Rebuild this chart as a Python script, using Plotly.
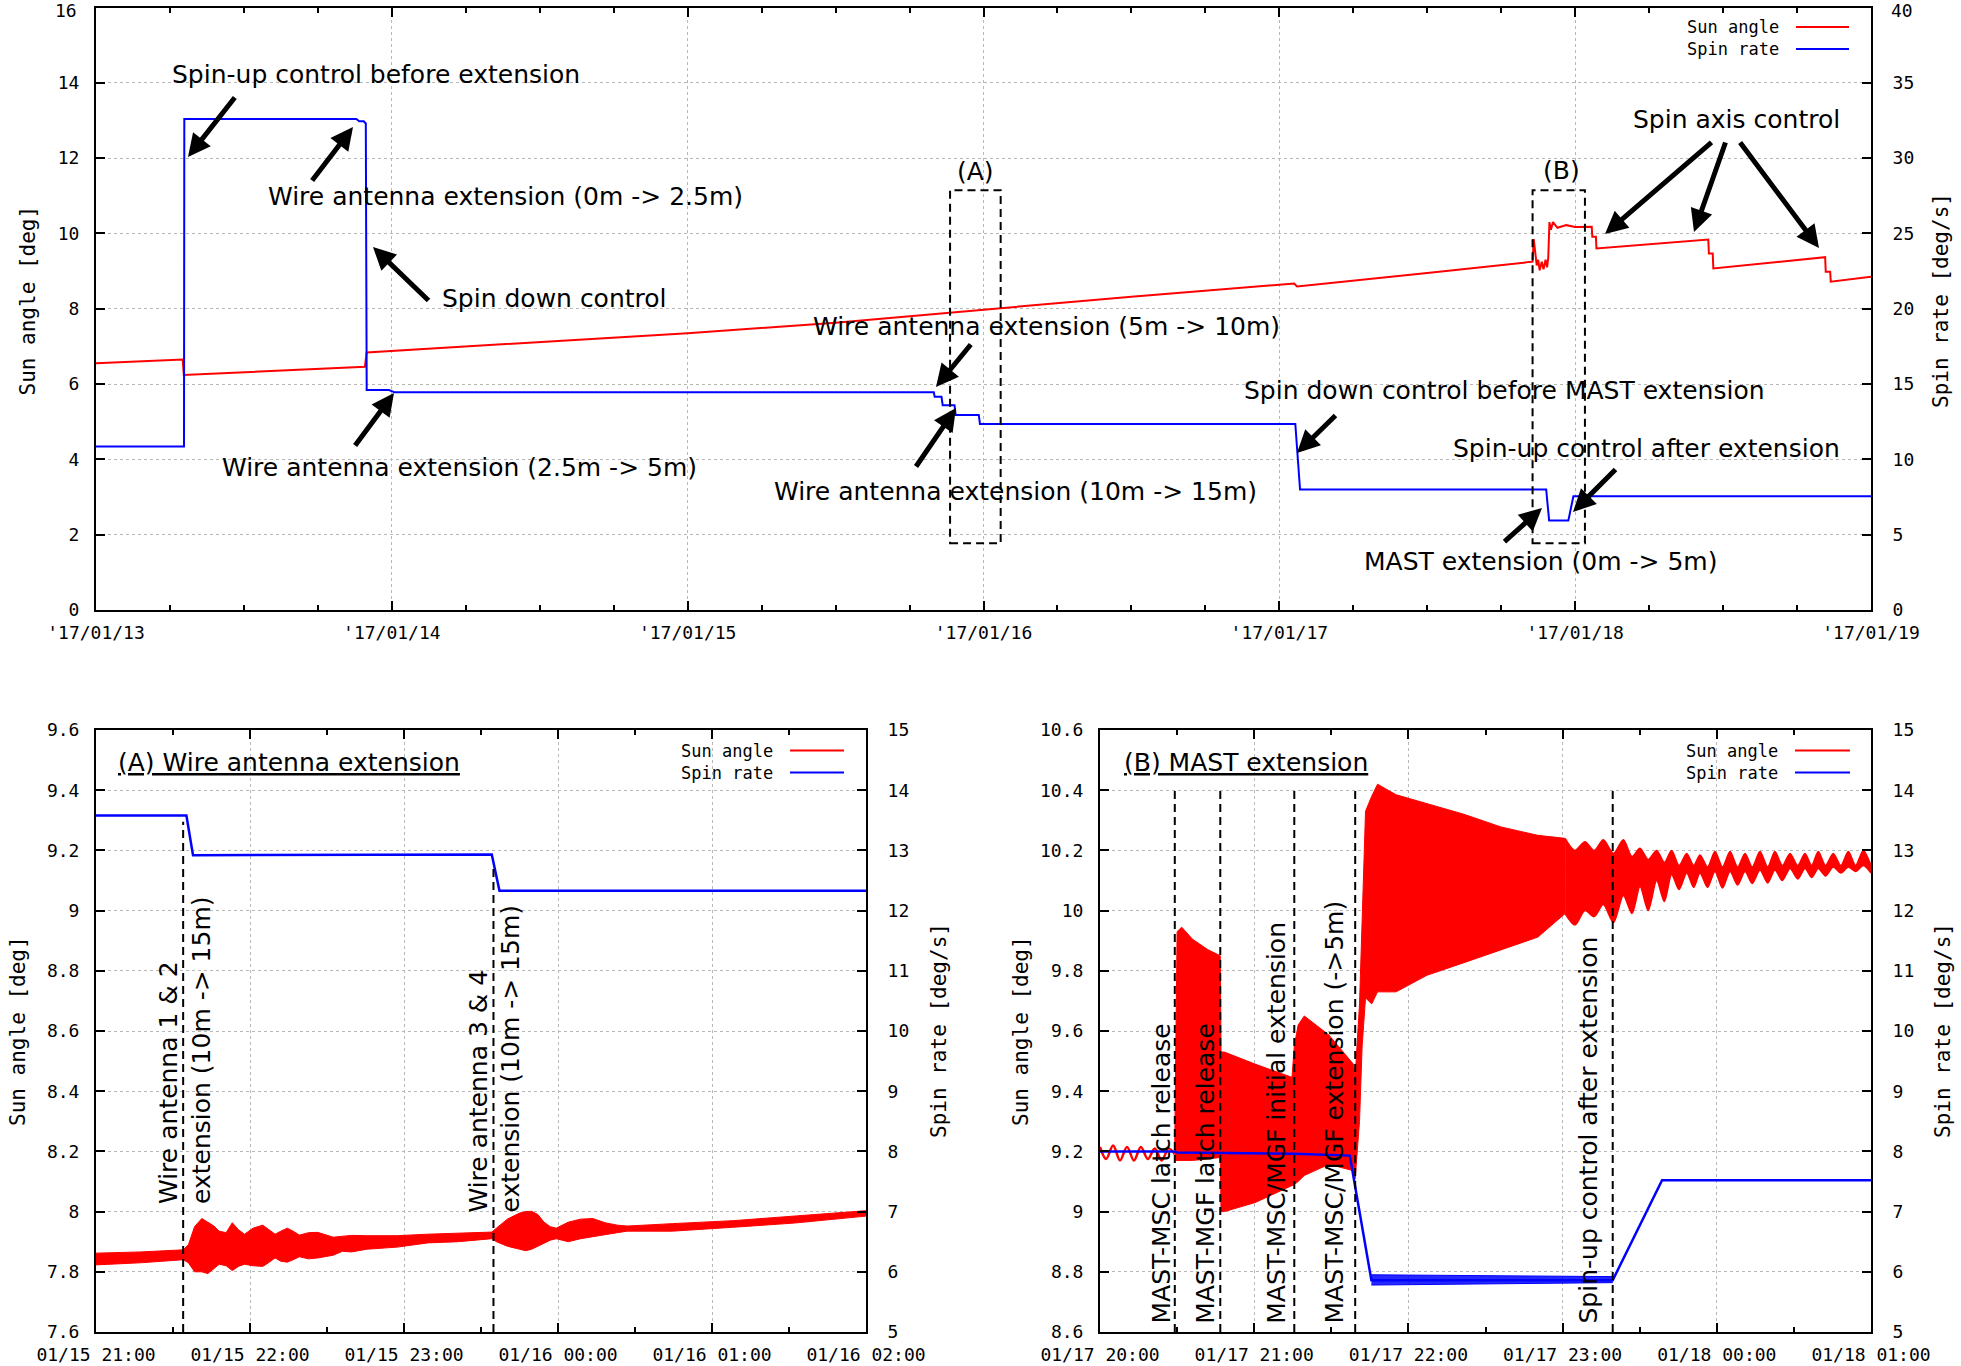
import plotly.graph_objects as go

W, H = 1961, 1366
RED = "rgb(255,0,0)"
BLUE = "rgb(0,0,255)"
GRID = "#b8b8b8"
MONO = "DejaVu Sans Mono, Liberation Mono, monospace"
SANS = "DejaVu Sans, Verdana, sans-serif"

# ---------------- data: overview (days since '17/01/13 00:00) ----------------
top_sun_days = [0.0, 0.293, 0.297, 0.6, 0.909, 0.915, 1.0, 1.5, 2.0, 2.5, 3.0, 3.5,
                4.05, 4.06, 4.5, 4.856, 4.86, 4.864, 4.87, 4.875, 4.88, 4.887, 4.893,
                4.9, 4.905, 4.909, 4.913, 4.918, 4.925, 4.94, 4.97, 5.0, 5.056, 5.058,
                5.07, 5.072, 5.45, 5.452, 5.465, 5.467, 5.845, 5.847, 5.862, 5.864, 6.0]
top_sun_deg = [6.55, 6.65, 6.24, 6.35, 6.46, 6.84, 6.88, 7.1, 7.35, 7.63, 7.98, 8.32,
               8.67, 8.59, 8.95, 9.25, 9.85, 9.5, 9.15, 9.3, 9.02, 9.25, 9.05,
               9.3, 9.1, 9.35, 10.3, 10.1, 10.3, 10.15, 10.22, 10.17, 10.18, 9.91,
               9.91, 9.6, 9.84, 9.47, 9.47, 9.07, 9.37, 8.98, 8.98, 8.72, 8.85]
top_spin_days = [0, 0.2975, 0.2985, 0.88, 0.89, 0.905, 0.912, 0.915, 0.99, 1.01,
                 2.832, 2.835, 2.858, 2.862, 2.902, 2.906, 2.984, 2.988,
                 4.054, 4.07, 4.902, 4.912, 4.977, 4.994, 6.0]
top_spin_dps = [10.85, 10.85, 32.6, 32.6, 32.45, 32.45, 32.3, 14.6, 14.6, 14.45,
                14.45, 14.15, 14.15, 13.6, 13.6, 12.95, 12.95, 12.35,
                12.35, 8.0, 8.0, 5.95, 5.95, 7.55, 7.55]
top_day_ticks = [0, 1, 2, 3, 4, 5, 6]
top_day_labels = ["'17/01/13", "'17/01/14", "'17/01/15", "'17/01/16",
                  "'17/01/17", "'17/01/18", "'17/01/19"]
top_sun_ticks = [0, 2, 4, 6, 8, 10, 12, 14, 16]
top_sun_labels = ["0", "2", "4", "6", "8", "10", "12", "14", "16"]
top_spin_ticks = [0, 5, 10, 15, 20, 25, 30, 35, 40]
top_spin_labels = ["0", "5", "10", "15", "20", "25", "30", "35", "40"]
box_a_days = [2.887, 3.058]
box_b_days = [4.856, 5.033]
box_sun = [1.77, 11.15]

# ---------------- data: (A) wire antenna extension (hours since 01/15 21:00) ----------------
a_spin_hours = [0, 0.587, 0.63, 2.57, 2.62, 5.0]
a_spin_dps = [13.58, 13.58, 12.92, 12.93, 12.33, 12.33]
a_sun_hours = [0, 0.29, 0.567, 0.6, 0.64, 0.687, 0.726, 0.766, 0.80, 0.845, 0.885, 0.925,
               0.964, 1.02, 1.083, 1.12, 1.163, 1.2, 1.242, 1.28, 1.321, 1.38, 1.44, 1.54,
               1.6, 1.659, 1.758, 1.956, 2.155, 2.353, 2.571, 2.6, 2.671, 2.75, 2.79, 2.829,
               2.87, 2.909, 2.95, 2.988, 3.03, 3.067, 3.147, 3.226, 3.306, 3.385, 3.45,
               3.544, 3.742, 4.139, 4.536, 5.0]
a_sun_upper = [7.862, 7.866, 7.873, 7.89, 7.95, 7.977, 7.965, 7.952, 7.935, 7.93, 7.963, 7.94,
               7.925, 7.945, 7.955, 7.94, 7.925, 7.935, 7.945, 7.935, 7.922, 7.93, 7.931, 7.915,
               7.918, 7.921, 7.92, 7.92, 7.925, 7.928, 7.932, 7.945, 7.975, 7.995, 8.0, 8.001,
               7.99, 7.965, 7.95, 7.945, 7.955, 7.965, 7.975, 7.977, 7.963, 7.955, 7.952,
               7.955, 7.96, 7.97, 7.985, 8.003]
a_sun_lower = [7.823, 7.83, 7.84, 7.83, 7.80, 7.80, 7.794, 7.81, 7.825, 7.82, 7.804, 7.818,
               7.825, 7.82, 7.818, 7.83, 7.846, 7.835, 7.832, 7.84, 7.85, 7.843, 7.846, 7.855,
               7.868, 7.866, 7.875, 7.882, 7.896, 7.9, 7.91, 7.9, 7.885, 7.875, 7.87, 7.875,
               7.885, 7.895, 7.905, 7.91, 7.905, 7.9, 7.91, 7.917, 7.925, 7.93, 7.935,
               7.935, 7.935, 7.948, 7.962, 7.985]
a_event_hours = [0.566, 2.581]
a_event_tops = [9.295, 9.146]
a_hour_ticks = [0, 1, 2, 3, 4, 5]
a_hour_labels = ["01/15 21:00", "01/15 22:00", "01/15 23:00", "01/16 00:00",
                 "01/16 01:00", "01/16 02:00"]
a_sun_ticks = [7.6, 7.8, 8.0, 8.2, 8.4, 8.6, 8.8, 9.0, 9.2, 9.4, 9.6]
a_sun_labels = ["7.6", "7.8", "8", "8.2", "8.4", "8.6", "8.8", "9", "9.2", "9.4", "9.6"]

# ---------------- data: (B) MAST extension (hours since 01/17 20:00) ----------------
b_sun_hours1 = [0, 0.04, 0.085, 0.13, 0.175, 0.22, 0.265, 0.31, 0.355, 0.40, 0.445, 0.485]
b_sun_deg1 = [9.215, 9.175, 9.22, 9.17, 9.215, 9.17, 9.215, 9.175, 9.21, 9.17, 9.21, 9.19]
b_sun_hours2 = [0.485, 0.50, 0.53, 0.6, 0.7, 0.78, 0.785, 0.807, 1.006, 1.245, 1.26, 1.285,
                1.325, 1.484, 1.643, 1.655, 1.683, 1.70, 1.722, 1.762, 1.80, 1.92, 2.12,
                2.36, 2.60, 2.84, 3.016]
b_sun_upper2 = [9.23, 9.93, 9.945, 9.905, 9.87, 9.85, 9.53, 9.53, 9.49, 9.446, 9.55, 9.62,
                9.65, 9.587, 9.49, 9.45, 9.69, 9.95, 10.33, 10.38, 10.42, 10.385, 10.356,
                10.32, 10.278, 10.25, 10.24]
b_sun_lower2 = [9.17, 9.17, 9.17, 9.17, 9.175, 9.18, 9.0, 9.0, 9.03, 9.087, 9.09, 9.1,
                9.12, 9.157, 9.136, 9.11, 9.30, 9.55, 9.71, 9.69, 9.73, 9.73, 9.785,
                9.827, 9.869, 9.912, 9.99]
b_sun_hours3 = [3.016, 3.08, 3.145, 3.205, 3.264, 3.33, 3.394, 3.45, 3.502, 3.555,
                3.610, 3.66, 3.707, 3.755, 3.805, 3.85, 3.891, 3.94, 3.988, 4.037,
                4.086, 4.135, 4.183, 4.23, 4.280, 4.33, 4.377, 4.425, 4.475, 4.525,
                4.572, 4.615, 4.658, 4.705, 4.755, 4.805, 4.853, 4.9, 4.950, 5.0]
b_sun_upper3 = [10.24, 10.2, 10.229, 10.2, 10.235, 10.19, 10.235, 10.18, 10.207, 10.17,
                10.2, 10.16, 10.2, 10.15, 10.19, 10.15, 10.185, 10.145, 10.196, 10.145,
                10.196, 10.145, 10.19, 10.145, 10.196, 10.145, 10.196, 10.15, 10.19, 10.15,
                10.19, 10.15, 10.196, 10.15, 10.19, 10.15, 10.196, 10.15, 10.2, 10.15]
b_sun_lower3 = [9.99, 9.952, 10.0, 9.98, 10.02, 9.96, 10.05, 9.99, 10.08, 10.0,
                10.1, 10.03, 10.12, 10.07, 10.125, 10.077, 10.125, 10.077, 10.13, 10.075,
                10.13, 10.085, 10.13, 10.09, 10.135, 10.092, 10.135, 10.1, 10.14, 10.105,
                10.14, 10.11, 10.14, 10.115, 10.145, 10.125, 10.145, 10.13, 10.15, 10.125]
b_spin_hours = [0, 0.485, 0.5, 1.26, 1.62, 1.76, 3.325, 3.645, 5.0]
b_spin_dps = [8.0, 8.0, 7.98, 7.96, 7.93, 5.86, 5.86, 7.52, 7.52]
b_spin_band_hours = [1.76, 2.5, 3.325]
b_spin_band_upper = [5.95, 5.93, 5.92]
b_spin_band_lower = [5.78, 5.80, 5.82]
b_event_hours = [0.485, 0.78, 1.26, 1.655, 3.325]
b_event_top = 10.40
b_hour_labels = ["01/17 20:00", "01/17 21:00", "01/17 22:00", "01/17 23:00",
                 "01/18 00:00", "01/18 01:00"]
b_sun_ticks = [8.6, 8.8, 9.0, 9.2, 9.4, 9.6, 9.8, 10.0, 10.2, 10.4, 10.6]
b_sun_labels = ["8.6", "8.8", "9", "9.2", "9.4", "9.6", "9.8", "10", "10.2", "10.4", "10.6"]
spin_ticks_small = [5, 6, 7, 8, 9, 10, 11, 12, 13, 14, 15]


def px(X):
    return X / W


def py(Y):
    return 1 - Y / H


fig = go.Figure()

# top panel
fig.add_trace(go.Scatter(x=top_sun_days, y=top_sun_deg, xaxis="x", yaxis="y", mode="lines",
                         line=dict(color=RED, width=2), name="Sun angle"))
fig.add_trace(go.Scatter(x=top_spin_days, y=top_spin_dps, xaxis="x", yaxis="y2", mode="lines",
                         line=dict(color=BLUE, width=2), name="Spin rate"))

# (A)
fig.add_trace(go.Scatter(x=a_sun_hours, y=a_sun_lower, xaxis="x2", yaxis="y3", mode="lines",
                         line=dict(color=RED, width=1)))
fig.add_trace(go.Scatter(x=a_sun_hours, y=a_sun_upper, xaxis="x2", yaxis="y3", mode="lines",
                         line=dict(color=RED, width=1), fill="tonexty", fillcolor=RED))
fig.add_trace(go.Scatter(x=a_spin_hours, y=a_spin_dps, xaxis="x2", yaxis="y4", mode="lines",
                         line=dict(color=BLUE, width=2.5)))

# (B)
fig.add_trace(go.Scatter(x=b_sun_hours1, y=b_sun_deg1, xaxis="x3", yaxis="y5", mode="lines",
                         line=dict(color=RED, width=2.5, shape="spline")))
fig.add_trace(go.Scatter(x=b_sun_hours2, y=b_sun_lower2, xaxis="x3", yaxis="y5", mode="lines",
                         line=dict(color=RED, width=1)))
fig.add_trace(go.Scatter(x=b_sun_hours2, y=b_sun_upper2, xaxis="x3", yaxis="y5", mode="lines",
                         line=dict(color=RED, width=1), fill="tonexty", fillcolor=RED))
fig.add_trace(go.Scatter(x=b_sun_hours3, y=b_sun_lower3, xaxis="x3", yaxis="y5", mode="lines",
                         line=dict(color=RED, width=1.5, shape="spline", smoothing=0.8)))
fig.add_trace(go.Scatter(x=b_sun_hours3, y=b_sun_upper3, xaxis="x3", yaxis="y5", mode="lines",
                         line=dict(color=RED, width=1.5, shape="spline", smoothing=0.8),
                         fill="tonexty", fillcolor=RED))
fig.add_trace(go.Scatter(x=b_spin_band_hours, y=b_spin_band_lower, xaxis="x3", yaxis="y6",
                         mode="lines", line=dict(color=BLUE, width=1)))
fig.add_trace(go.Scatter(x=b_spin_band_hours, y=b_spin_band_upper, xaxis="x3", yaxis="y6",
                         mode="lines", line=dict(color=BLUE, width=1), fill="tonexty",
                         fillcolor="rgba(0,0,255,0.85)"))
fig.add_trace(go.Scatter(x=b_spin_hours, y=b_spin_dps, xaxis="x3", yaxis="y6", mode="lines",
                         line=dict(color=BLUE, width=2.5)))

tickfont = dict(family=MONO, size=18, color="black")


def xax(domain, anchor, rng, vals, texts, minor_dtick):
    return dict(domain=domain, anchor=anchor, range=rng, tickmode="array", tickvals=vals,
                ticktext=texts, ticks="inside", ticklen=9, tickwidth=1.5, tickcolor="black",
                showline=True, linecolor="black", linewidth=2, mirror="ticks",
                showgrid=True, gridcolor=GRID, griddash="dot", gridwidth=1.2,
                minor=dict(ticks="inside", ticklen=5, tickwidth=1.5, tickcolor="black",
                           dtick=minor_dtick, tick0=0, showgrid=False),
                tickfont=tickfont, zeroline=False, ticklabelstandoff=5, fixedrange=True,
                automargin=False, ticklabeloverflow="allow")


def yleft(domain, anchor, rng, vals, texts):
    return dict(domain=domain, anchor=anchor, range=rng, tickmode="array", tickvals=vals,
                ticktext=texts, ticks="inside", ticklen=9, tickwidth=1.5, tickcolor="black",
                showline=True, linecolor="black", linewidth=2, mirror=True,
                showgrid=True, gridcolor=GRID, griddash="dot", gridwidth=1.2,
                tickfont=tickfont, zeroline=False, ticklabelstandoff=11, fixedrange=True,
                automargin=False, ticklabeloverflow="allow")


def yright(overlay, anchor, rng, vals, texts):
    return dict(overlaying=overlay, anchor=anchor, side="right", range=rng, tickmode="array",
                tickvals=vals, ticktext=texts, ticks="inside", ticklen=9,
                tickwidth=1.5, tickcolor="black", showline=True, linecolor="black",
                linewidth=2, showgrid=False, tickfont=tickfont, zeroline=False,
                ticklabelstandoff=16, fixedrange=True, automargin=False,
                ticklabeloverflow="allow")


top_xd = [px(96), px(1871)]
top_yd = [py(610), py(7.5)]
bl_xd = [px(96), px(866)]
br_xd = [px(1100), px(1871)]
bot_yd = [py(1332), py(730)]

# the topmost labels of the overview panel sit at the page edge: they are drawn as
# annotations nudged a few pixels down so that they stay fully visible
top_sun_axis_text = top_sun_labels[:-1] + [""]
top_spin_axis_text = top_spin_labels[:-1] + [""]

small_spin_labels = [str(v) for v in spin_ticks_small]

layout = dict(
    width=W, height=H, autosize=False,
    margin=dict(l=0, r=0, t=0, b=0, pad=0, autoexpand=False),
    paper_bgcolor="white", plot_bgcolor="white", showlegend=False,
    xaxis=xax(top_xd, "y", [0, 6], top_day_ticks, top_day_labels, 0.25),
    yaxis=yleft(top_yd, "x", [0, 16], top_sun_ticks, top_sun_axis_text),
    yaxis2=yright("y", "x", [0, 40], top_spin_ticks, top_spin_axis_text),
    xaxis2=xax(bl_xd, "y3", [0, 5], a_hour_ticks, a_hour_labels, 0.5),
    yaxis3=yleft(bot_yd, "x2", [7.6, 9.6], a_sun_ticks, a_sun_labels),
    yaxis4=yright("y3", "x2", [5, 15], spin_ticks_small, small_spin_labels),
    xaxis3=xax(br_xd, "y5", [0, 5], a_hour_ticks, b_hour_labels, 0.5),
    yaxis5=yleft(bot_yd, "x3", [8.6, 10.6], b_sun_ticks, b_sun_labels),
    yaxis6=yright("y5", "x3", [5, 15], spin_ticks_small, small_spin_labels),
)
fig.update_layout(**layout)

shapes = []
dash = "8px,5px"
for bx in (box_a_days, box_b_days):
    shapes.append(dict(type="rect", xref="x", yref="y", x0=bx[0], x1=bx[1], y0=box_sun[0],
                       y1=box_sun[1], line=dict(color="black", width=2, dash=dash)))
for h, top in zip(a_event_hours, a_event_tops):
    shapes.append(dict(type="line", xref="x2", yref="y3", x0=h, x1=h, y0=7.6, y1=top,
                       line=dict(color="black", width=2, dash=dash)))
for h in b_event_hours:
    shapes.append(dict(type="line", xref="x3", yref="y5", x0=h, x1=h, y0=8.6, y1=b_event_top,
                       line=dict(color="black", width=2, dash=dash)))

annotations = []

# top tick labels of the overview panel
annotations.append(dict(x=px(79), y=py(11), xref="paper", yref="paper",
                        text=top_sun_labels[-1], showarrow=False, xanchor="right",
                        yanchor="middle", font=tickfont))
annotations.append(dict(x=px(1889), y=py(11), xref="paper", yref="paper",
                        text=top_spin_labels[-1], showarrow=False, xanchor="left",
                        yanchor="middle", font=tickfont))


def legend(text_right, line_x0, line_x1, y_sun, y_spin):
    for label, yy, col in (("Sun angle", y_sun, RED), ("Spin rate", y_spin, BLUE)):
        annotations.append(dict(x=px(text_right), y=py(yy), xref="paper", yref="paper",
                                text=label, showarrow=False, xanchor="right", yanchor="middle",
                                font=dict(family=MONO, size=17, color="black")))
        shapes.append(dict(type="line", xref="paper", yref="paper", x0=px(line_x0),
                           x1=px(line_x1), y0=py(yy), y1=py(yy),
                           line=dict(color=col, width=2)))


legend(1781, 1796, 1849, 27, 49)
legend(775, 790, 844, 750.5, 772.5)
legend(1780, 1795, 1850, 750.5, 772.5)

afont = dict(family=SANS, size=25, color="black")


def text(t, cx, cy, **kw):
    d = dict(x=px(cx), y=py(cy), xref="paper", yref="paper", text=t, showarrow=False,
             xanchor="center", yanchor="middle", font=afont)
    d.update(kw)
    annotations.append(d)


def arrow(tip, tail):
    annotations.append(dict(x=px(tip[0]), y=py(tip[1]), xref="paper", yref="paper", text="",
                            showarrow=True, ax=tail[0] - tip[0], ay=tail[1] - tip[1],
                            axref="pixel", ayref="pixel", arrowhead=2, arrowsize=0.9,
                            arrowwidth=5, arrowcolor="black", standoff=0, startstandoff=0))


text("Spin-up control before extension", 376, 74)
arrow((188, 157), (236, 96))
text("Wire antenna extension (0m -> 2.5m)", 506, 196.5)
arrow((353, 127), (311, 182))
text("Spin down control", 554, 298)
arrow((373, 247), (430, 302))
text("Wire antenna extension (2.5m -> 5m)", 459, 467.5)
arrow((394, 393), (354, 447))
text("Wire antenna extension (5m -> 10m)", 1046, 327)
arrow((936, 387), (972, 343))
text("Wire antenna extension (10m -> 15m)", 1016, 491)
arrow((956, 408), (915, 468))
text("Spin down control before MAST extension", 1504, 390)
arrow((1297, 453), (1337, 414))
text("Spin-up control after extension", 1646, 448)
arrow((1573, 512), (1617, 468))
text("MAST extension (0m -> 5m)", 1540, 562)
arrow((1542, 508), (1503, 543))
text("Spin axis control", 1736, 119)
arrow((1605, 234), (1713, 141))
arrow((1694, 232), (1726, 141))
arrow((1819, 248), (1739, 141))
text("(A)", 975, 172)
text("(B)", 1561, 170)

# panel titles
text("<u>(A) Wire antenna extension</u>", 116, 762, xanchor="left")
text("<u>(B) MAST extension</u>", 1122, 762, xanchor="left")

# rotated event labels
rot = dict(textangle=-90, align="left", xanchor="center", yanchor="bottom")
text("Wire antenna 1 &amp; 2<br>extension (10m -> 15m)", 185, 1206, **rot)
text("Wire antenna 3 &amp; 4<br>extension (10m -> 15m)", 494.5, 1215, **rot)
for t, cx in (("MAST-MSC latch release", 1160.5), ("MAST-MGF latch release", 1205.3),
              ("MAST-MSC/MGF initial extension", 1275.7),
              ("MAST-MSC/MGF extension (->5m)", 1334), ("Spin-up control after extension", 1588)):
    text(t, cx, 1326, **rot)

# axis titles
tfont = dict(family=MONO, size=21, color="black")
for t, cx, cy in (("Sun angle [deg]", 27.5, 301), ("Spin rate [deg/s]", 1941, 301),
                  ("Sun angle [deg]", 18, 1031), ("Spin rate [deg/s]", 939, 1031),
                  ("Sun angle [deg]", 1021, 1031), ("Spin rate [deg/s]", 1943, 1031)):
    text(t, cx, cy, textangle=-90, font=tfont)

fig.update_layout(shapes=shapes, annotations=annotations)

fig.write_html("out.html", config={"displayModeBar": False},
               post_script="document.body.style.margin='0';document.body.style.overflow='hidden';")
